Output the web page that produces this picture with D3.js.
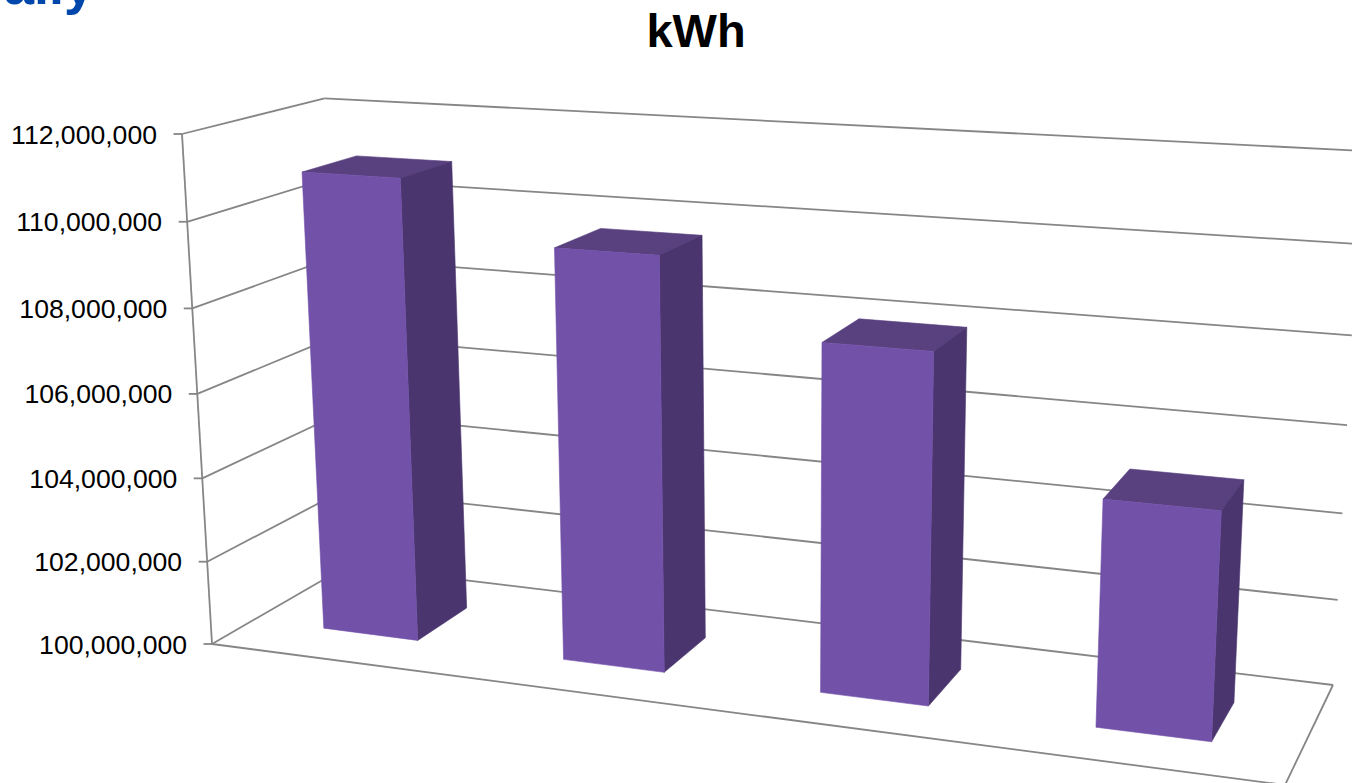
<!DOCTYPE html>
<html>
<head>
<meta charset="utf-8">
<script src="https://cdn.jsdelivr.net/npm/d3@7"></script>
<style>
  html, body { margin: 0; background: #fff; overflow: hidden; }
  svg { display: block; }
  text { font-family: "Liberation Sans", Arial, sans-serif; fill: #000; }
</style>
</head>
<body>
<script>
// values
var categories = ["A", "B", "C", "D"];
var kwh = [110950000, 109600000, 107950000, 105080000];
var yTicks = [100000000, 102000000, 104000000, 106000000, 108000000, 110000000, 112000000];

var width = 1352, height = 783;

// corners of the 3d box on screen
var O = [212, 644],   // front left floor
    X = [1285, 785],  // front right floor
    Z = [347, 566],   // back left floor
    R = [1333, 685],  // back right floor
    Y = [182, 134],   // front left top
    T = [323, 98];    // back left top

// projective map: floor quad first, then the vertical column
var dx1 = X[0] - R[0], dy1 = X[1] - R[1],
    dx2 = Z[0] - R[0], dy2 = Z[1] - R[1],
    sx = O[0] - X[0] + R[0] - Z[0], sy = O[1] - X[1] + R[1] - Z[1],
    det = dx1 * dy2 - dx2 * dy1,
    g = (sx * dy2 - dx2 * sy) / det,
    h = (dx1 * sy - sx * dy1) / det,
    a = X[0] - O[0] + g * X[0],
    b = Z[0] - O[0] + h * Z[0],
    d = X[1] - O[1] + g * X[1],
    e = Z[1] - O[1] + h * Z[1];

var k = ((T[0] * h - b) / (Y[0] - T[0]) + (T[1] * h - e) / (Y[1] - T[1])) / 2,
    i = Y[0] * k - O[0],
    l = Y[1] * k - O[1],
    j = k - 1;

function project(u, v, w) {
    var q = g * u + j * v + h * w + 1;
    // the original is not a clean perspective, small correction on top of it
    var fixX = -28 * u * (1 - u) + 14 * u * v,
        fixY = -17.6 * u * v * (0.5 + 0.5 * v);
    return [(a * u + i * v + b * w + O[0]) / q + fixX, (d * u + l * v + e * w + O[1]) / q + fixY];
}

var x = d3.scaleBand().domain(categories).range([0, 1]).paddingInner(0.6).paddingOuter(0.3);
var y = d3.scaleLinear().domain([100000000, 112000000]).range([0, 1]);
var depth = d3.scaleLinear().domain([0, 1]).range([0.3, 0.7]); // bar depth inside the floor

var fmt = d3.format(",");
var line = d3.line();

var svg = d3.select("body").append("svg")
    .attr("width", width)
    .attr("height", height);

function edge(p1, p2) {
    svg.append("line")
        .attr("x1", p1[0]).attr("y1", p1[1])
        .attr("x2", p2[0]).attr("y2", p2[1])
        .style("stroke", "#868686")
        .style("stroke-width", 1.8);
}

// gridlines on side wall and back wall, tick marks and labels
yTicks.forEach(function(t) {
    var v = y(t);
    var front = project(0, v, 0), back = project(0, v, 1);
    edge(front, back);
    edge(back, project(1, v, 1));
    edge([front[0] - 8.5, front[1]], front);
    svg.append("text")
        .attr("x", front[0] - 25)
        .attr("y", front[1] + 9.5)
        .attr("text-anchor", "end")
        .style("font-size", "26.6px")
        .text(fmt(t));
});

// axis and floor outline
edge(project(0, 0, 0), project(0, 1, 0));
edge(project(0, 0, 0), project(1, 0, 0));
edge(project(1, 0, 0), project(1, 0, 1));

// bars
categories.forEach(function(c, n) {
    var u0 = x(c), u1 = x(c) + x.bandwidth(), w0 = depth(0), w1 = depth(1), v = y(kwh[n]);

    var faces = [
        { fill: "#59407f", pts: [[u0, v, w0], [u1, v, w0], [u1, v, w1], [u0, v, w1]] },
        { fill: "#4a356f", pts: [[u1, 0, w0], [u1, v, w0], [u1, v, w1], [u1, 0, w1]] },
        { fill: "#7251a9", pts: [[u0, 0, w0], [u1, 0, w0], [u1, v, w0], [u0, v, w0]] }
    ];

    svg.append("g").selectAll("path")
        .data(faces)
        .enter().append("path")
        .attr("d", function(f) {
            return line(f.pts.map(function(p) { return project(p[0], p[1], p[2]); })) + "Z";
        })
        .style("fill", function(f) { return f.fill; })
        .style("stroke", function(f) { return f.fill; })
        .style("stroke-width", 0.6);
});

// titles
svg.append("text")
    .attr("x", 696)
    .attr("y", 47)
    .attr("text-anchor", "middle")
    .style("font-size", "47px")
    .style("font-weight", "bold")
    .text("kWh");

// cut off by the top of the picture in the original
svg.append("text")
    .attr("x", 4)
    .attr("y", 4)
    .style("font-size", "54px")
    .style("font-weight", "bold")
    .style("fill", "#0047ab")
    .text("ally");
</script>
</body>
</html>
